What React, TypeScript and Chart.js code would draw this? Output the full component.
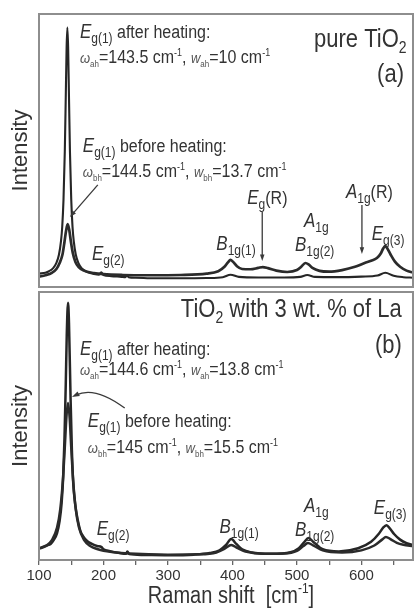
import React, { useEffect, useRef } from 'react';
import { Chart, registerables } from 'chart.js';

Chart.register(...registerables);

// ---------- data (Raman shift in cm^-1, intensity in arbitrary units) ----------
const X_MIN = 100;
const X_MAX = 680;
const X_TICK_STEP = 50;
const X_LABEL_STEP = 100;

// (a) pure TiO2 – after heating (narrow, tall Eg(1))
const A_AFTER_X = [100, 110, 114, 122, 127, 131, 134, 136, 138, 140, 141.5, 142.8, 144, 145.2, 146.5, 148, 150, 152, 154, 157, 161, 166, 174, 185, 193, 196.5, 200, 212, 228, 234, 236.5, 239, 250, 280, 320, 360, 385, 397, 410, 440, 480, 505, 516, 528, 560, 600, 625, 637, 650, 665, 680];
const A_AFTER_Y = [4.9, 5.2, 5.6, 6.9, 8.8, 11.9, 16.6, 22, 32, 49.5, 69.5, 87.5, 95, 87.5, 69.5, 49.5, 32, 22, 16.6, 11.9, 8.8, 6.9, 5.6, 4.8, 4.5, 5.4, 4.4, 4.0, 3.7, 3.6, 4.3, 3.6, 3.4, 3.2, 3.2, 3.3, 3.6, 4.5, 3.7, 3.5, 3.5, 3.7, 4.4, 3.7, 3.6, 3.8, 4.2, 5.2, 4.1, 3.6, 3.4];

// (a) pure TiO2 – before heating
const A_BEFORE_X = [100, 110, 120, 127, 132, 136.5, 139.5, 142, 144.5, 147, 149.5, 152.5, 156.5, 161.5, 169.5, 185, 200, 230, 270, 320, 360, 378, 388, 393, 397, 401, 407, 415, 428, 440, 447, 455, 468, 485, 500, 507, 513, 518, 524, 535, 550, 570, 590, 605, 615, 624, 630, 634, 637, 640, 645, 652, 660, 670, 680];
const A_BEFORE_Y = [3.8, 4.3, 5.2, 6.6, 8.8, 12, 16.5, 20.6, 23, 20.8, 16.6, 12.4, 9.2, 7.3, 6.0, 5.1, 4.7, 4.4, 4.3, 4.4, 4.9, 5.8, 7.5, 9.0, 9.9, 9.2, 7.6, 6.6, 6.5, 7.0, 7.3, 6.9, 6.0, 5.5, 6.2, 7.5, 8.8, 8.3, 7.0, 5.9, 5.6, 6.2, 7.4, 8.8, 9.6, 10.6, 12.3, 14.2, 15.0, 14.2, 12.0, 9.3, 7.4, 6.0, 5.3];

// (b) TiO2 with 3 wt.% La – after heating
const B_AFTER_X = [100, 112, 118, 123, 128, 132, 135, 137.5, 139.5, 141.5, 143, 145, 146.5, 149, 151, 153, 156, 160, 164, 168, 175, 182, 190, 197, 200, 210, 225, 235, 237, 240, 260, 300, 340, 365, 380, 390, 398, 406, 415, 430, 460, 490, 503, 511, 518, 526, 540, 565, 595, 615, 627, 634, 639, 644, 651, 660, 670, 680];
const B_AFTER_Y = [4.4, 5.4, 6.0, 7.5, 10, 14.6, 21, 31, 45, 65.5, 83.5, 96, 88.5, 60, 41, 29, 21, 15, 11, 9, 7, 6, 5.2, 4.8, 4.0, 3.3, 2.6, 2.3, 3.2, 2.2, 1.9, 1.8, 2.0, 2.6, 3.6, 5.6, 7.8, 6.0, 4.0, 2.8, 2.3, 2.9, 4.4, 6.6, 8.2, 6.6, 4.0, 3.2, 4.4, 6.8, 9.8, 12.2, 13.0, 11.8, 9.6, 7.6, 6.3, 5.6];

// (b) TiO2 with 3 wt.% La – before heating
const B_BEFORE_X = [100, 110, 120, 128, 133, 137, 140, 142.5, 145, 147.5, 150, 153, 157, 162, 170, 180, 190, 200, 215, 240, 300, 350, 375, 388, 398, 408, 420, 450, 480, 500, 510, 517, 525, 540, 570, 600, 620, 632, 638, 645, 655, 665, 680];
const B_BEFORE_Y = [4.2, 5.1, 7.4, 12.1, 19, 29.6, 42, 53.2, 58.6, 53.2, 42, 29.6, 19, 12.1, 7.4, 5.1, 4.1, 3.4, 2.9, 2.4, 2.0, 2.1, 2.8, 4.2, 5.6, 4.4, 3.2, 2.3, 2.4, 3.4, 5.2, 6.3, 5.5, 3.6, 2.8, 3.6, 5.4, 7.6, 8.6, 7.8, 6.4, 5.7, 5.2];

const Y_TITLE = 'Intensity';

// ---------- styling ----------
const FONT = '"Liberation Sans", Arial, Helvetica, sans-serif';
const INK = '#333333';
const FRAME = '#8e8e8e';
const TEXT_STRETCH = 1.15;

type Seg = [string, string];
type Note = { x: number; y: number; segs: Seg[]; align?: 'left' | 'right' | 'center' };
type Arrow = { from: [number, number]; to: [number, number]; ctrl?: [number, number] };

const STYLES: Record<string, { size: number; italic?: boolean; dy: number; color?: string }> = {
  n: { size: 16, dy: 0 },
  I: { size: 17, italic: true, dy: 0 },
  s: { size: 12, dy: 5 },
  t: { size: 8, dy: 4, color: '#555' },
  o: { size: 13, italic: true, dy: 0, color: '#555' },
  u: { size: 9, dy: -7 },
  L: { size: 22, dy: 0 },
  Ls: { size: 14, dy: 6 },
  X: { size: 20, dy: 0 },
  Xu: { size: 12, dy: -10 },
};

const fontOf = (k: string) => {
  const st = STYLES[k];
  return `${st.italic ? 'italic ' : ''}${st.size}px ${FONT}`;
};

function drawRich(ctx: CanvasRenderingContext2D, x: number, y: number, segs: Seg[], align: 'left' | 'right' | 'center' = 'left') {
  const widths = segs.map(([t, k]) => {
    ctx.font = fontOf(k);
    return ctx.measureText(t).width;
  });
  const total = widths.reduce((a, b) => a + b, 0);
  let cx = align === 'right' ? x - total : align === 'center' ? x - total / 2 : x;
  ctx.textAlign = 'left';
  ctx.textBaseline = 'alphabetic';
  segs.forEach(([t, k], i) => {
    const st = STYLES[k];
    ctx.save();
    ctx.font = fontOf(k);
    ctx.fillStyle = st.color || INK;
    ctx.translate(cx, y + st.dy);
    ctx.scale(1, TEXT_STRETCH);
    ctx.fillText(t, 0, 0);
    ctx.restore();
    cx += widths[i];
  });
}

function drawArrow(ctx: CanvasRenderingContext2D, x1: number, y1: number, x2: number, y2: number, head: number, cx?: number, cy?: number) {
  const ang = cx !== undefined && cy !== undefined ? Math.atan2(y2 - cy, x2 - cx) : Math.atan2(y2 - y1, x2 - x1);
  const ex = x2 - Math.cos(ang) * head * 0.6;
  const ey = y2 - Math.sin(ang) * head * 0.6;
  ctx.beginPath();
  ctx.moveTo(x1, y1);
  if (cx !== undefined && cy !== undefined) ctx.quadraticCurveTo(cx, cy, ex, ey);
  else ctx.lineTo(ex, ey);
  ctx.stroke();
  ctx.beginPath();
  ctx.moveTo(x2, y2);
  ctx.lineTo(x2 - head * Math.cos(ang - 0.33), y2 - head * Math.sin(ang - 0.33));
  ctx.lineTo(x2 - head * Math.cos(ang + 0.33), y2 - head * Math.sin(ang + 0.33));
  ctx.closePath();
  ctx.fill();
}

const omegaLine = (sub: string, w0: string, w1: string): Seg[] => [
  ['ω', 'o'], [sub, 't'], ['=' + w0 + ' cm', 'n'], ['-1', 'u'], [', ', 'n'],
  ['w', 'o'], [sub, 't'], ['=' + w1 + ' cm', 'n'], ['-1', 'u'],
];

const TOP_NOTES: Note[] = [
  { x: 163.4, y: 91.2, segs: [['E', 'I'], ['g(1)', 's'], [' after heating:', 'n']] },
  { x: 163.4, y: 82.1, segs: omegaLine('ah', '143.5', '10') },
  { x: 168, y: 49.5, segs: [['E', 'I'], ['g(1)', 's'], [' before heating:', 'n']] },
  { x: 168, y: 40.3, segs: omegaLine('bh', '144.5', '13.7') },
  { x: 670, y: 88, align: 'right', segs: [['pure TiO', 'L'], ['2', 'Ls']] },
  { x: 666, y: 75, align: 'right', segs: [['(a)', 'L']] },
  { x: 182, y: 9.9, segs: [['E', 'I'], ['g(2)', 's']] },
  { x: 375, y: 13.6, segs: [['B', 'I'], ['1g(1)', 's']] },
  { x: 423, y: 30.4, segs: [['E', 'I'], ['g', 's'], ['(R)', 'n']] },
  { x: 511, y: 22, segs: [['A', 'I'], ['1g', 's']] },
  { x: 497, y: 13.2, segs: [['B', 'I'], ['1g(2)', 's']] },
  { x: 576, y: 32.6, segs: [['A', 'I'], ['1g', 's'], ['(R)', 'n']] },
  { x: 616, y: 17.2, segs: [['E', 'I'], ['g(3)', 's']] },
];

const TOP_ARROWS: Arrow[] = [
  { from: [191.2, 37.4], to: [147.9, 25.6] },
  { from: [446.2, 27.5], to: [446.2, 9.5] },
  { from: [600.8, 30], to: [600.8, 12.1] },
];

const BOT_NOTES: Note[] = [
  { x: 662.6, y: 90.7, align: 'right', segs: [['TiO', 'L'], ['2', 'Ls'], [' with 3 wt. % of La', 'L']] },
  { x: 662.6, y: 77.2, align: 'right', segs: [['(b)', 'L']] },
  { x: 163.4, y: 76.5, segs: [['E', 'I'], ['g(1)', 's'], [' after heating:', 'n']] },
  { x: 163.4, y: 69, segs: omegaLine('ah', '144.6', '13.8') },
  { x: 175.7, y: 49.6, segs: [['E', 'I'], ['g(1)', 's'], [' before heating:', 'n']] },
  { x: 175.7, y: 40, segs: omegaLine('bh', '145', '15.5') },
  { x: 189.6, y: 9.3, segs: [['E', 'I'], ['g(2)', 's']] },
  { x: 379.8, y: 10.1, segs: [['B', 'I'], ['1g(1)', 's']] },
  { x: 511, y: 17.9, segs: [['A', 'I'], ['1g', 's']] },
  { x: 497, y: 9, segs: [['B', 'I'], ['1g(2)', 's']] },
  { x: 619.3, y: 17.2, segs: [['E', 'I'], ['g(3)', 's']] },
];

const BOT_ARROWS: Arrow[] = [
  { from: [232.9, 56.7], ctrl: [186.6, 65], to: [151, 60.8] },
];

const X_TITLE: Seg[] = [['Raman shift  [cm', 'X'], ['-1', 'Xu'], [']', 'X']];

const pts = (xs: number[], ys: number[]) => xs.map((x, i) => ({ x, y: ys[i] }));

function makePlugin(id: string, notes: Note[], arrows: Arrow[], xTitle?: Seg[]) {
  return {
    id,
    afterDraw(chart: any) {
      const { ctx, chartArea: a, scales } = chart;
      const xs = scales.x;
      const ys = scales.y;
      ctx.save();
      ctx.strokeStyle = FRAME;
      ctx.lineWidth = 2;
      ctx.strokeRect(a.left, a.top, a.right - a.left, a.bottom - a.top);
      notes.forEach((n) => drawRich(ctx, xs.getPixelForValue(n.x), ys.getPixelForValue(n.y), n.segs, n.align || 'left'));
      ctx.strokeStyle = '#3a3a3a';
      ctx.fillStyle = '#3a3a3a';
      ctx.lineWidth = 1.3;
      arrows.forEach((ar) => {
        const x1 = xs.getPixelForValue(ar.from[0]);
        const y1 = ys.getPixelForValue(ar.from[1]);
        const x2 = xs.getPixelForValue(ar.to[0]);
        const y2 = ys.getPixelForValue(ar.to[1]);
        if (ar.ctrl) {
          drawArrow(ctx, x1, y1, x2, y2, 8, xs.getPixelForValue(ar.ctrl[0]), ys.getPixelForValue(ar.ctrl[1]));
        } else {
          drawArrow(ctx, x1, y1, x2, y2, 7);
        }
      });
      if (xTitle) {
        drawRich(ctx, (a.left + a.right) / 2 + 5, xs.top + 43, xTitle, 'center');
      }
      ctx.restore();
    },
  };
}

const lineDs = (data: { x: number; y: number }[], color: string, width: number) => ({
  data,
  borderColor: color,
  borderWidth: width,
  pointRadius: 0,
  fill: false,
  cubicInterpolationMode: 'monotone' as const,
});

const yScale = () => ({
  min: 0,
  max: 100,
  grid: { display: false },
  border: { display: false },
  ticks: { display: false },
  title: { display: true, text: Y_TITLE, color: INK, font: { size: 22, family: FONT }, padding: { top: 8, bottom: 0 } },
  afterFit(s: any) {
    s.width = 39;
  },
});

export default function App() {
  const topRef = useRef<HTMLCanvasElement>(null);
  const botRef = useRef<HTMLCanvasElement>(null);

  useEffect(() => {
    const top = new Chart(topRef.current as HTMLCanvasElement, {
      type: 'line',
      data: {
        datasets: [
          lineDs(pts(A_BEFORE_X, A_BEFORE_Y), '#2b2b2b', 2.7),
          lineDs(pts(A_AFTER_X, A_AFTER_Y), '#262626', 2.1),
        ],
      },
      options: {
        animation: false,
        responsive: false,
        maintainAspectRatio: false,
        events: [],
        layout: { padding: { top: 14, right: 1, bottom: 3, left: 0 } },
        plugins: { legend: { display: false }, tooltip: { enabled: false } },
        scales: {
          x: { type: 'linear', min: X_MIN, max: X_MAX, display: false },
          y: yScale() as any,
        },
      },
      plugins: [makePlugin('notesTop', TOP_NOTES, TOP_ARROWS)],
    });

    const bot = new Chart(botRef.current as HTMLCanvasElement, {
      type: 'line',
      data: {
        datasets: [
          lineDs(pts(B_BEFORE_X, B_BEFORE_Y), '#2b2b2b', 2.5),
          lineDs(pts(B_AFTER_X, B_AFTER_Y), '#262626', 2.5),
        ],
      },
      options: {
        animation: false,
        responsive: false,
        maintainAspectRatio: false,
        events: [],
        layout: { padding: { top: 2, right: 1, bottom: 0, left: 0 } },
        plugins: { legend: { display: false }, tooltip: { enabled: false } },
        scales: {
          x: {
            type: 'linear',
            min: X_MIN,
            max: X_MAX,
            grid: { display: true, drawOnChartArea: false, drawTicks: true, tickLength: 5, color: '#666', lineWidth: 1.3 },
            border: { display: false },
            ticks: {
              stepSize: X_TICK_STEP,
              includeBounds: false,
              autoSkip: false,
              maxRotation: 0,
              padding: 2,
              color: INK,
              font: { size: 15, family: FONT },
              callback: (v: any) => (Number(v) % X_LABEL_STEP === 0 ? String(v) : ''),
            },
            afterFit(s: any) {
              s.height = 50;
            },
          } as any,
          y: yScale() as any,
        },
      },
      plugins: [makePlugin('notesBot', BOT_NOTES, BOT_ARROWS, X_TITLE)],
    });

    return () => {
      top.destroy();
      bot.destroy();
    };
  }, []);

  return (
    <div style={{ position: 'absolute', left: 0, top: 0, width: 414, height: 610, background: '#fff' }}>
      <canvas ref={topRef} width={414} height={290} style={{ position: 'absolute', left: 0, top: 0, width: 414, height: 290 }} />
      <canvas ref={botRef} width={414} height={320} style={{ position: 'absolute', left: 0, top: 290, width: 414, height: 320 }} />
    </div>
  );
}
